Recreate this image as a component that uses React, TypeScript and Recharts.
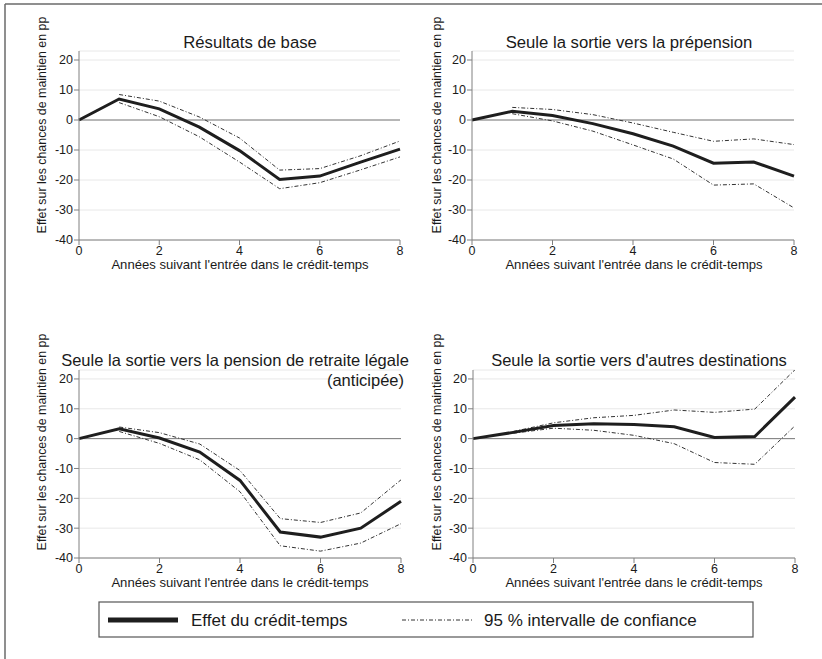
import React from "react";
import { LineChart, Line, XAxis, YAxis, CartesianGrid, ReferenceLine } from "recharts";

const years = [0, 1, 2, 3, 4, 5, 6, 7, 8];
const xTicks = [0, 2, 4, 6, 8];
const yTicks = [-40, -30, -20, -10, 0, 10, 20];

const titles = [
  "Résultats de base",
  "Seule la sortie vers la prépension",
  "Seule la sortie vers la pension de retraite légale",
  "Seule la sortie vers d'autres destinations",
];
const subtitle3 = "(anticipée)";
const yLabel = "Effet sur les chances de maintien en pp";
const xLabel = "Années suivant l'entrée dans le crédit-temps";
const legendMain = "Effet du crédit-temps";
const legendCI = "95 % intervalle de confiance";

// Panel 1: Résultats de base
const baseEffect = [0, 7, 3.7, -2.4, -10.2, -19.8, -18.7, -14.1, -9.7];
const baseUpper = [null, 8.5, 6.3, 1.0, -6.0, -16.7, -16.2, -12.0, -7.0];
const baseLower = [null, 5.8, 1.1, -5.6, -14.0, -22.9, -20.9, -16.7, -12.3];

// Panel 2: prépension
const prepEffect = [0, 2.9, 1.5, -1.2, -4.6, -8.7, -14.4, -14.0, -18.7];
const prepUpper = [null, 4.2, 3.5, 1.8, -1.0, -4.1, -7.1, -6.3, -8.2];
const prepLower = [null, 2.1, -0.3, -3.7, -8.3, -13.0, -21.7, -21.3, -29.3];

// Panel 3: pension de retraite légale (anticipée)
const retEffect = [0, 3.3, 0.2, -4.5, -14.0, -31.3, -33.0, -30.0, -21.0];
const retUpper = [null, 3.9, 2.0, -1.8, -10.7, -26.8, -28.1, -24.9, -13.8];
const retLower = [null, 2.4, -1.6, -7.1, -17.8, -35.9, -37.7, -35.0, -28.5];

// Panel 4: autres destinations
const othEffect = [0, 2.1, 4.4, 5.0, 4.7, 4.0, 0.4, 0.7, 13.9];
const othUpper = [null, 2.4, 5.3, 7.0, 7.8, 9.6, 8.8, 9.9, 23.1];
const othLower = [null, 1.8, 3.5, 2.8, 1.1, -1.7, -8.0, -8.6, 4.3];

const FONT = "'Liberation Sans', Arial, sans-serif";
const AXIS_GRAY = "#808080";

function build(effect: number[], upper: (number | null)[], lower: (number | null)[]) {
  return years.map((y, i) => ({ year: y, effect: effect[i], upper: upper[i], lower: lower[i] }));
}

type PanelProps = {
  data: any[];
  left: number;
  top: number;
  yWidth: number;
  margin: { top: number; right: number; bottom: number; left: number };
};

function Panel({ data, left, top, yWidth, margin }: PanelProps) {
  const tick = { fontSize: 12.5, fill: "#1a1a1a", fontFamily: FONT };
  return (
    <div style={{ position: "absolute", left, top }}>
      <LineChart width={411} height={290} data={data} margin={margin}>
        <CartesianGrid horizontal vertical={false} stroke="#e8e8e8" strokeWidth={1} />
        <XAxis
          dataKey="year"
          type="number"
          domain={[0, 8]}
          ticks={xTicks}
          height={30}
          tick={tick}
          tickSize={5}
          tickMargin={1}
          stroke={AXIS_GRAY}
          interval={0}
        />
        <YAxis
          type="number"
          domain={[-40, 23]}
          ticks={yTicks}
          width={yWidth}
          tick={tick}
          tickSize={5}
          tickMargin={1}
          stroke={AXIS_GRAY}
          allowDataOverflow
          interval={0}
        />
        <ReferenceLine y={0} stroke="#7a7a7a" strokeWidth={1} />
        <Line
          dataKey="upper"
          stroke="#333"
          strokeWidth={1}
          strokeDasharray="4 2 1 2"
          dot={false}
          isAnimationActive={false}
          connectNulls={false}
        />
        <Line
          dataKey="lower"
          stroke="#333"
          strokeWidth={1}
          strokeDasharray="4 2 1 2"
          dot={false}
          isAnimationActive={false}
          connectNulls={false}
        />
        <Line
          dataKey="effect"
          stroke="#1e1e1e"
          strokeWidth={3}
          dot={false}
          isAnimationActive={false}
          strokeLinejoin="miter"
        />
      </LineChart>
    </div>
  );
}

export default function App() {
  const d1 = build(baseEffect, baseUpper, baseLower);
  const d2 = build(prepEffect, prepUpper, prepLower);
  const d3 = build(retEffect, retUpper, retLower);
  const d4 = build(othEffect, othUpper, othLower);
  const tStyle = { fontFamily: FONT, fill: "#1a1a1a" } as const;
  return (
    <div style={{ position: "absolute", left: 0, top: 0, width: 822, height: 659, background: "#fff", overflow: "hidden" }}>
      <Panel data={d1} left={0} top={0} yWidth={79} margin={{ top: 51, right: 11, bottom: 20, left: 0 }} />
      <Panel data={d2} left={411} top={0} yWidth={61} margin={{ top: 51, right: 28, bottom: 20, left: 0 }} />
      <Panel data={d3} left={0} top={300} yWidth={79} margin={{ top: 70, right: 10, bottom: 2, left: 0 }} />
      <Panel data={d4} left={411} top={300} yWidth={62} margin={{ top: 70, right: 27, bottom: 2, left: 0 }} />
      <svg width={822} height={659} style={{ position: "absolute", left: 0, top: 0, pointerEvents: "none" }}>
        <line x1={5} y1={4} x2={822} y2={4} stroke="#6a6a6a" strokeWidth={1.5} />
        <line x1={5} y1={4} x2={5} y2={659} stroke="#6a6a6a" strokeWidth={1.5} />

        <text x={250} y={48} fontSize={16.7} textAnchor="middle" {...tStyle}>{titles[0]}</text>
        <text x={629} y={48} fontSize={16.7} textAnchor="middle" {...tStyle}>{titles[1]}</text>
        <text x={235} y={366} fontSize={16.5} textAnchor="middle" {...tStyle}>{titles[2]}</text>
        <text x={404} y={386} fontSize={16.5} textAnchor="end" {...tStyle}>{subtitle3}</text>
        <text x={639} y={366} fontSize={16.5} textAnchor="middle" {...tStyle}>{titles[3]}</text>

        <text transform="translate(46,125) rotate(-90)" fontSize={12.4} textAnchor="middle" {...tStyle}>{yLabel}</text>
        <text transform="translate(441,125) rotate(-90)" fontSize={12.4} textAnchor="middle" {...tStyle}>{yLabel}</text>
        <text transform="translate(46,442) rotate(-90)" fontSize={12.4} textAnchor="middle" {...tStyle}>{yLabel}</text>
        <text transform="translate(441,442) rotate(-90)" fontSize={12.4} textAnchor="middle" {...tStyle}>{yLabel}</text>

        <text x={240} y={269} fontSize={13.1} textAnchor="middle" {...tStyle}>{xLabel}</text>
        <text x={634} y={269} fontSize={13.1} textAnchor="middle" {...tStyle}>{xLabel}</text>
        <text x={240} y={587} fontSize={13.1} textAnchor="middle" {...tStyle}>{xLabel}</text>
        <text x={634} y={587} fontSize={13.1} textAnchor="middle" {...tStyle}>{xLabel}</text>

        <rect x={99} y={602} width={654} height={35} fill="none" stroke="#555" strokeWidth={1.2} />
        <line x1={108} y1={620} x2={178} y2={620} stroke="#1e1e1e" strokeWidth={5} />
        <text x={191} y={626} fontSize={17} {...tStyle}>{legendMain}</text>
        <line x1={402} y1={620} x2={472} y2={620} stroke="#333" strokeWidth={1} strokeDasharray="4 2 1 2" />
        <text x={484} y={626} fontSize={17} {...tStyle}>{legendCI}</text>
      </svg>
    </div>
  );
}
